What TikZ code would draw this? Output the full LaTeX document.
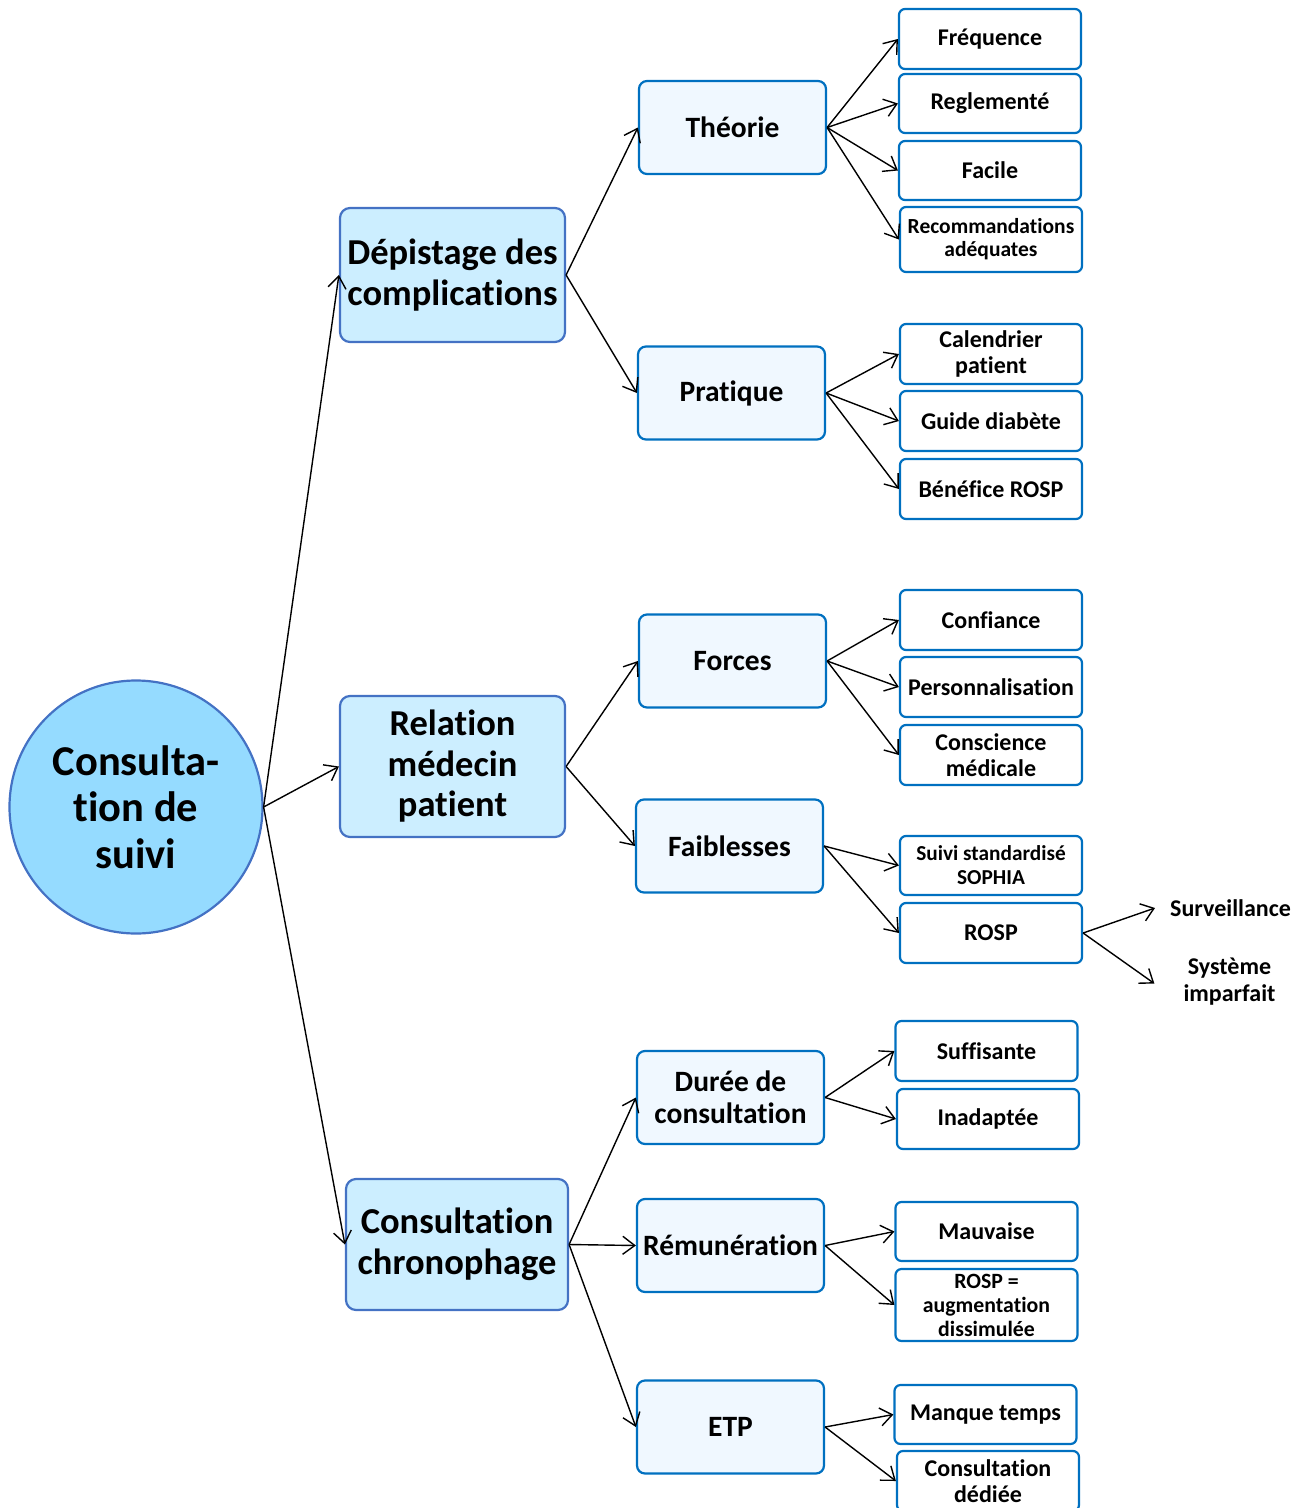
\documentclass[tikz,border=0pt]{standalone}
\usepackage{fontspec}
\setmainfont{Carlito}[Ligatures=NoCommon]
\usetikzlibrary{arrows.meta}
\definecolor{rootfill}{HTML}{95DBFF}
\definecolor{rootdraw}{HTML}{4472C4}
\definecolor{lonefill}{HTML}{CCEEFF}
\definecolor{ltwofill}{HTML}{F0F8FF}
\definecolor{bluedraw}{HTML}{0070C0}
\begin{document}
\begin{tikzpicture}[x=1pt,y=-1pt,
  rootnode/.style={circle,fill=rootfill,draw=rootdraw,line width=2.2pt,minimum size=253pt,inner sep=0pt,align=center,
    font=\fontsize{42.5}{46.5}\selectfont\bfseries},
  lone/.style={rectangle,rounded corners=10pt,fill=lonefill,draw=rootdraw,line width=2.2pt,inner sep=0pt,align=center,
    minimum width=225pt,font=\fontsize{36.5}{40.5}\selectfont\bfseries},
  ltwo/.style={rectangle,rounded corners=8pt,fill=ltwofill,draw=bluedraw,line width=2.2pt,inner sep=0pt,align=center,
    minimum width=187pt,minimum height=93pt,font=\fontsize{29.5}{32}\selectfont\bfseries},
  lthree/.style={rectangle,rounded corners=6pt,fill=white,draw=bluedraw,line width=2.2pt,inner sep=0pt,align=center,
    minimum width=182pt,minimum height=60pt,font=\fontsize{24}{26.5}\selectfont\bfseries},
  free/.style={inner sep=0pt,align=center,font=\fontsize{24}{26.5}\selectfont\bfseries},
  conn/.style={draw,line width=1.4pt,-{Straight Barb[length=12pt,width=18pt,line width=1.4pt]}}
]
\useasboundingbox (0,0) rectangle (1307,1508);
% root
\node[rootnode] (root) at (136,807) {Consulta-\\tion de\\suivi};
% level 1
\node[lone,minimum height=134pt] (dep) at (452.5,275) {Dépistage des\\complications};
\node[lone,minimum height=141pt] (rel) at (452.5,766.5) {Relation\\médecin\\patient};
\node[lone,minimum width=222pt,minimum height=131pt] (chr) at (457,1244.5) {Consultation\\chronophage};
% level 2
\node[ltwo] (the) at (732.5,127.5) {Théorie};
\node[ltwo] (pra) at (731.5,393) {Pratique};
\node[ltwo] (for) at (732.5,661) {Forces};
\node[ltwo] (fai) at (729.5,846) {Faiblesses};
\node[ltwo] (dur) at (730.5,1097.5) {Durée de\\consultation};
\node[ltwo] (rem) at (730.5,1245.5) {Rémunération};
\node[ltwo] (etp) at (730.5,1427) {ETP};
% level 3
\node[lthree] (fre) at (990,39) {Fréquence};
\node[lthree,minimum height=59pt] (reg) at (990,103.5) {Reglementé};
\node[lthree,minimum height=59pt] (fac) at (990,170.5) {Facile};
\node[lthree,minimum height=65pt,font=\fontsize{21.5}{23}\selectfont\bfseries] (rec) at (991,239.5) {Recommandations\\adéquates};
\node[lthree] (cal) at (991,354) {Calendrier\\patient};
\node[lthree] (gui) at (991,421) {Guide diabète};
\node[lthree] (ben) at (991,489) {Bénéfice ROSP};
\node[lthree] (con) at (991,620) {Confiance};
\node[lthree] (per) at (991,687) {Personnalisation};
\node[lthree] (cms) at (991,755) {Conscience\\médicale};
\node[lthree,minimum height=59pt,font=\fontsize{21.3}{24}\selectfont\bfseries] (sui) at (991,865.5) {Suivi standardisé\\SOPHIA};
\node[lthree] (ros) at (991,933) {ROSP};
\node[free,anchor=west] (sur) at (1170,908) {Surveillance};
\node[free] (sys) at (1229.5,981.5) {Système\\imparfait};
\node[lthree] (suf) at (986.5,1051) {Suffisante};
\node[lthree] (ina) at (988,1119) {Inadaptée};
\node[lthree,minimum height=59pt] (mau) at (986.5,1231.5) {Mauvaise};
\node[lthree,minimum height=72pt,font=\fontsize{21.8}{24}\selectfont\bfseries] (aug) at (986.5,1305) {ROSP =\\augmentation\\dissimulée};
\node[lthree,minimum height=59pt] (man) at (985.5,1414.5) {Manque temps};
\node[lthree] (ded) at (988,1481) {Consultation\\dédiée};
% connectors
\draw[conn] (root.east) -- (dep.west);
\draw[conn] (root.east) -- (rel.west);
\draw[conn] (root.east) -- (chr.west);
\draw[conn] (dep.east) -- (the.west);
\draw[conn] (dep.east) -- (pra.west);
\draw[conn] (rel.east) -- (for.west);
\draw[conn] (rel.east) -- (fai.west);
\draw[conn] (chr.east) -- (dur.west);
\draw[conn] (chr.east) -- (rem.west);
\draw[conn] (chr.east) -- (etp.west);
\draw[conn] (the.east) -- (fre.west);
\draw[conn] (the.east) -- (reg.west);
\draw[conn] (the.east) -- (fac.west);
\draw[conn] (the.east) -- (rec.west);
\draw[conn] (pra.east) -- (cal.west);
\draw[conn] (pra.east) -- (gui.west);
\draw[conn] (pra.east) -- (ben.west);
\draw[conn] (for.east) -- (con.west);
\draw[conn] (for.east) -- (per.west);
\draw[conn] (for.east) -- (cms.west);
\draw[conn] (fai.east) -- (sui.west);
\draw[conn] (fai.east) -- (ros.west);
\draw[conn] (ros.east) -- ([xshift=-15pt]sur.west);
\draw[conn] (ros.east) -- ([xshift=-29pt,yshift=-2pt]sys.west);
\draw[conn] (dur.east) -- (suf.west);
\draw[conn] (dur.east) -- (ina.west);
\draw[conn] (rem.east) -- (mau.west);
\draw[conn] (rem.east) -- (aug.west);
\draw[conn] (etp.east) -- (man.west);
\draw[conn] (etp.east) -- (ded.west);
\end{tikzpicture}
\end{document}
